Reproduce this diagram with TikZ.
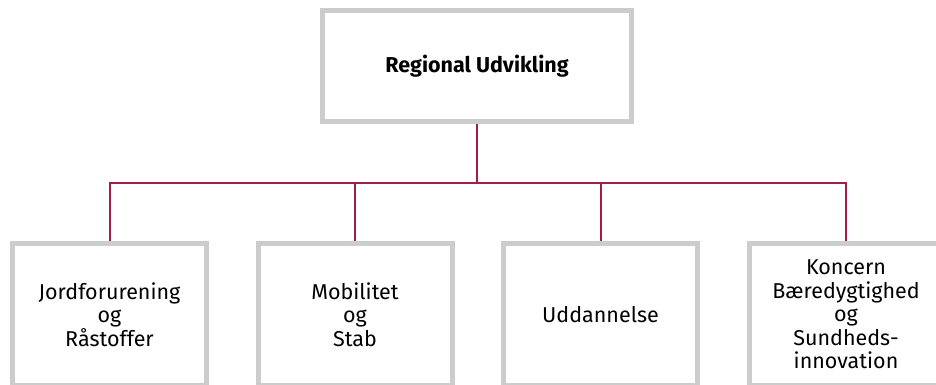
\documentclass[tikz,border=0pt]{standalone}
\usepackage{fontspec}
\setmainfont{Fira Sans}
\usepackage{tikz}
\usetikzlibrary{positioning}
\usetikzlibrary{calc}

\definecolor{rammegraa}{HTML}{CCCCCC}
\definecolor{linjerod}{HTML}{A51C4C}

\begin{document}
\begin{tikzpicture}[x=1pt, y=-1pt,
    enhed/.style={draw=rammegraa, line width=5pt, fill=white, align=center,
        minimum width=194pt, minimum height=142pt, inner sep=0pt,
        font=\fontsize{21.5}{23.5}\selectfont},
    forbind/.style={draw=linjerod, line width=2pt}]
    \clip (0,0) rectangle (936,385);
    \node[enhed, minimum width=309pt, minimum height=111pt,
        font=\fontsize{21.5}{23.5}\selectfont\bfseries] (regional) at (477,66)
    {Regional Udvikling};
    \node[enhed] (jord) at (109.5,314.5) {Jordforurening\\og\\Råstoffer};
    \node[enhed] (mobilitet) at (355,314.5) {Mobilitet\\og\\Stab};
    \node[enhed] (uddannelse) at (600.5,314.5) {Uddannelse};
    \node[enhed] (koncern) at (846,314.5)
    {Koncern\\Bæredygtighed\\og\\Sundheds-\\innovation};
    \coordinate (bus) at ($(regional.south) + (0,59)$);
    \draw[forbind] (regional.south) -- (bus);
    \draw[forbind] (jord.north) |- (bus) -| (koncern.north);
    \draw[forbind] (mobilitet.north) -- (mobilitet.north |- bus);
    \draw[forbind] (uddannelse.north) -- (uddannelse.north |- bus);
\end{tikzpicture}
\end{document}
